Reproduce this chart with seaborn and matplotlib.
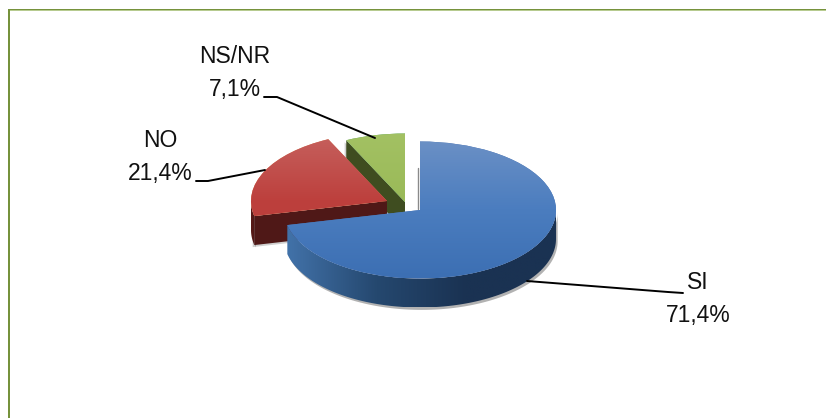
import numpy as np
import matplotlib
matplotlib.use('Agg')
import matplotlib.pyplot as plt
from matplotlib.colors import LinearSegmentedColormap
from matplotlib.patches import Polygon, Rectangle
import seaborn as sns

categories = ['SI', 'NO', 'NS/NR']
values = [71.4, 21.4, 7.1]
value_labels = ['71,4%', '21,4%', '7,1%']

W, H = 826, 418
CX, CY = 420, 210      # pie centre in pixels
RX, RY = 136, 68.5     # pie radii in pixels
DEPTH = 29 / RY

sns.set_theme(style='white')
plt.rcParams['font.family'] = ['Liberation Sans', 'DejaVu Sans']

fig = plt.figure(figsize=(W / 100, H / 100), dpi=100)
ax = fig.add_axes([0, 0, 1, 1])

# how far each slice is pulled out, in pie units
offsets = [(0, 0), (-33 / RX, 9 / RY), (-15 / RX, 8 / RY)]
top_cols = [['#6b90c5', '#4b7dbf', '#3c6fb3'], ['#c6625f', '#bd403d', '#b83c39'], ['#a3c163', '#9aba58', '#94b752']]
rim_cols = [['#4272a9', '#25486f', '#1a3252', '#1a3252'], ['#5a1a18', '#4f1817'], ['#3f4d20', '#3f4d20']]
cut_cols = [None, '#4f1817', '#3f4d20']

wedges, _ = ax.pie(values, startangle=90, counterclock=False, radius=1, wedgeprops=dict(linewidth=0))
ax.set_aspect('auto')


def arc(t1, t2, c, dy=0.0):
    t = np.radians(np.linspace(t1, t2, 120))
    return np.column_stack([c[0] + np.cos(t), c[1] + np.sin(t) - dy])


def px(x, y):
    return ((x - CX) / RX, (CY - y) / RY)


# back to front so the big slice covers the others
for i in [2, 1, 0]:
    w = wedges[i]
    c = offsets[i]
    w.set_center(c)
    t1, t2 = w.theta1, w.theta2
    if t1 < 0:
        t1, t2 = t1 + 360, t2 + 360
    z = 10 + (2 - i) * 10
    w.set_zorder(z + 3)

    # outer wall, only where the rim faces the viewer
    lo, hi = max(t1, 180), min(t2, 360)
    if hi > lo:
        rim = np.vstack([arc(lo, hi, c), arc(hi, lo, c, DEPTH)])
        ax.add_patch(Polygon(rim + [0.012, -0.035], closed=True, fc='#555555', alpha=0.45, lw=0, zorder=z))
        p = Polygon(rim, closed=True, fc='none', lw=0, zorder=z + 1)
        ax.add_patch(p)
        cm = LinearSegmentedColormap.from_list('rim', rim_cols[i])
        im = ax.imshow(np.linspace(0, 1, 256)[None, :], cmap=cm, aspect='auto',
                       extent=[rim[:, 0].min(), rim[:, 0].max(), rim[:, 1].min(), rim[:, 1].max()],
                       zorder=z + 1)
        im.set_clip_path(p)

    # cut face left open by pulling the slice out
    if cut_cols[i]:
        e = arc(t2, t2, c)[0]
        face = [c, e, e - [0, DEPTH], np.array(c) - [0, DEPTH]]
        ax.add_patch(Polygon(face + np.array([-0.012, -0.03]), closed=True, fc='#777777', alpha=0.35, lw=0, zorder=z))
        ax.add_patch(Polygon(face, closed=True, fc=cut_cols[i], lw=0, zorder=z + 2))

    # top face gradient
    cm = LinearSegmentedColormap.from_list('top', top_cols[i])
    im = ax.imshow(np.linspace(0, 1, 256)[:, None], cmap=cm, aspect='auto',
                   extent=[c[0] - 1, c[0] + 1, c[1] - 1, c[1] + 1], zorder=z + 4)
    im.set_clip_path(w)

# faint shadow beside the straight edge of the big slice
sh = np.array([px(418, 168), px(418, 209)])
ax.plot(sh[:, 0], sh[:, 1], color='#8a8a8a', lw=1.0, zorder=5)

ax.set_xlim(-CX / RX, (W - CX) / RX)
ax.set_ylim((CY - H) / RY, CY / RY)
ax.axis('off')

# leader lines, pixel positions from the picture
leaders = [[(527, 281), (668, 292), (683, 293)],
           [(196, 181), (208, 181), (265, 170)],
           [(264, 97), (277, 97), (375, 138)]]
label_pos = [(698, 299), (160, 157), (235, 73)]
for i in range(3):
    xy = np.array([px(*p) for p in leaders[i]])
    ax.plot(xy[:, 0], xy[:, 1], color='black', lw=1.4, zorder=60)
    x, y = px(*label_pos[i])
    ax.text(x, y, categories[i] + '\n' + value_labels[i], ha='center', va='center', fontsize=16.5,
            color='#111111', linespacing=1.55, zorder=61)

# border of the slide
fig.add_artist(Rectangle((8 / W, 0), 2.2 / W, 1 - 9 / H, transform=fig.transFigure, fc='#76923c', lw=0))
fig.add_artist(Rectangle((8 / W, 1 - 10.2 / H), 1 - 8 / W, 1.2 / H, transform=fig.transFigure, fc='#76923c', lw=0))
fig.add_artist(Rectangle((10 / W, 1 - 11.2 / H), 1 - 10 / W, 1 / H, transform=fig.transFigure, fc='#b7cb90', lw=0))

fig.savefig('out.png', dpi=100)
